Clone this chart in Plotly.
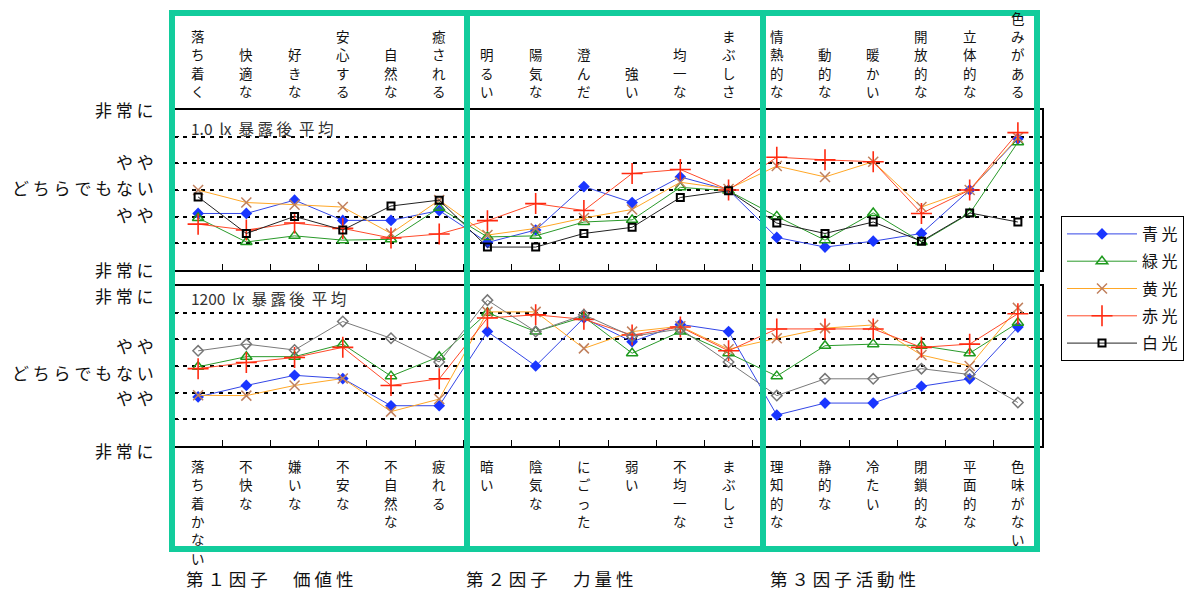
import plotly.graph_objects as go

W, H = 1191, 590

# Semantic differential pairs (positive pole on top, negative pole below)
top_words = ["落ち着く", "快適な", "好きな", "安心する", "自然な", "癒される",
             "明るい", "陽気な", "澄んだ", "強い", "均一な", "まぶしさ",
             "情熱的な", "動的な", "暖かい", "開放的な", "立体的な", "色みがある"]
bottom_words = ["落ち着かない", "不快な", "嫌いな", "不安な", "不自然な", "疲れる",
                "暗い", "陰気な", "にごった", "弱い", "不均一な", "まぶしさ",
                "理知的な", "静的な", "冷たい", "閉鎖的な", "平面的な", "色味がない"]

series_names = ["青光", "緑光", "黄光", "赤光", "白光"]

# Mean ratings after 1.0 lx exposure (-3 .. +3)
low_blue = [-0.88, -0.88, -0.38, -1.14, -1.14, -0.77, -1.97, -1.50, 0.13, -0.47, 0.49, 0.00,
            -1.78, -2.14, -1.92, -1.63, 0.00, 1.92]
low_green = [-1.05, -1.95, -1.72, -1.88, -1.85, -0.67, -1.76, -1.72, -1.20, -1.12, 0.10, -0.03,
             -0.99, -1.88, -0.86, -1.95, -0.88, 1.79]
low_yellow = [0.00, -0.47, -0.55, -0.64, -1.63, -0.38, -1.69, -1.44, -1.05, -0.73, 0.29, 0.04,
              0.90, 0.49, 1.06, -0.64, 0.00, 1.96]
low_red = [-1.28, -1.50, -1.24, -1.44, -1.80, -1.65, -1.15, -0.51, -0.77, 0.62, 0.77, 0.00,
           1.23, 1.13, 1.06, -0.88, 0.00, 2.15]
low_white = [-0.26, -1.63, -0.99, -1.50, -0.60, -0.38, -2.14, -2.14, -1.63, -1.40, -0.28, -0.03,
             -1.24, -1.63, -1.20, -1.92, -0.86, -1.20]

# Mean ratings after 1200 lx exposure (-3 .. +3)
high_blue = [-1.16, -0.73, -0.35, -0.47, -1.49, -1.49, 1.29, 0.00, 1.80, 0.91, 1.56, 1.29,
             -1.84, -1.39, -1.39, -0.76, -0.48, 1.46]
high_green = [-0.03, 0.35, 0.35, 0.82, -0.38, 0.35, 2.00, 1.29, 1.84, 0.48, 1.29, 0.48,
              -0.38, 0.76, 0.82, 0.76, 0.48, 1.62]
high_yellow = [-1.10, -1.11, -0.73, -0.47, -1.71, -1.24, 2.03, 2.03, 0.66, 1.29, 1.49, 0.63,
               1.04, 1.42, 1.54, 0.41, 0.00, 2.18]
high_red = [-0.10, 0.13, 0.32, 0.70, -0.73, -0.48, 1.80, 1.92, 1.75, 1.16, 1.46, 0.57,
            1.39, 1.39, 1.39, 0.70, 0.82, 1.96]
high_white = [0.57, 0.82, 0.60, 1.67, 1.04, 0.15, 2.47, 1.29, 1.92, 1.11, 1.39, 0.15,
              -1.11, -0.48, -0.48, -0.10, -0.32, -1.37]

y_levels = [3, 1, 0, -1, -3]
y_labels = ["非常に", "やや", "どちらでもない", "やや", "非常に"]

panel_titles = ["1.0 lx 暴露後 平均", "1200 lx 暴露後 平均"]
factor_titles = ["第１因子　価値性", "第２因子　力量性", "第３因子活動性"]

FONT = "Noto Sans CJK JP"
BOX = "#12CC9C"
INK = "#111111"
NB = "\u00a0"


def px(x):
    return x / W


def py(y):
    return 1 - y / H


def widen(s):
    """Open up the pitch of CJK glyphs with non-breaking spaces."""
    out = []
    for ch in s:
        if ch in (" ", "　"):
            out.append(NB * (2 if ch == " " else 5))
        else:
            out.append(ch)
    res = []
    for i, ch in enumerate(out):
        res.append(ch)
        if i < len(out) - 1 and ord(ch[0]) > 0x2E80 and ord(out[i + 1][0]) > 0x2E80:
            res.append(NB)
    return "".join(res)


styles = [
    dict(line=dict(color="#3346E6", width=1),
         marker=dict(symbol="diamond", size=9, color="#1A36FF")),
    dict(line=dict(color="#2A9A2A", width=1),
         marker=dict(symbol="triangle-up-open", size=10, color="#1E9A1E", line=dict(width=1.5))),
    dict(line=dict(color="#FFA726", width=1),
         marker=dict(symbol="x-thin-open", size=10, color="#C0805E", line=dict(width=1.5))),
    dict(line=dict(color="#FF4A2A", width=1),
         marker=dict(symbol="cross-thin-open", size=15, color="#FF2A10", line=dict(width=1.6))),
]
white_top = dict(line=dict(color="#222222", width=1),
                 marker=dict(symbol="square-open", size=7, color="#000000", line=dict(width=2)))
white_bottom = dict(line=dict(color="#7A7A7A", width=1),
                    marker=dict(symbol="diamond-open", size=8, color="#777777", line=dict(width=1.5)))

fig = go.Figure()

low_sets = [low_blue, low_green, low_yellow, low_red, low_white]
high_sets = [high_blue, high_green, high_yellow, high_red, high_white]

for i, name in enumerate(series_names):
    st = styles[i] if i < 4 else white_top
    fig.add_trace(go.Scatter(x=top_words, y=low_sets[i], name=NB.join(name),
                             legendgroup=name, mode="lines+markers",
                             xaxis="x", yaxis="y", showlegend=True, **st))
for i, name in enumerate(series_names):
    st = styles[i] if i < 4 else white_bottom
    fig.add_trace(go.Scatter(x=top_words, y=high_sets[i], name=name, legendgroup=name,
                             mode="lines+markers",
                             xaxis="x2", yaxis="y2", showlegend=False, **st))

x_dom = [px(174), px(1042)]
xcommon = dict(type="category", categoryorder="array", categoryarray=top_words,
               range=[-0.5, 17.5], showticklabels=False, tickson="boundaries",
               ticks="inside", ticklen=6, tickcolor="#000", showline=True, linecolor="#000",
               linewidth=1.5, mirror=True, showgrid=False, zeroline=False, domain=x_dom)
ycommon = dict(range=[-3, 3], tickvals=[-3, -2, -1, 0, 1, 2, 3], showticklabels=False,
               ticks="inside", ticklen=5, tickcolor="#000",
               showline=True, linecolor="#000", linewidth=1.5, mirror=True,
               showgrid=True, gridcolor="#000", gridwidth=1.6, griddash="4px,5px",
               zeroline=False)

annotations = []

# vertical adjective labels, one glyph per row
PITCH = 18.3
for w_top, w_bot in zip(top_words, bottom_words):
    n = len(w_top)
    for k, ch in enumerate(w_top):
        annotations.append(dict(x=w_top, xref="x", y=py(91 - (n - 1 - k) * PITCH),
                                yref="paper", text=ch, showarrow=False,
                                xanchor="center", yanchor="middle",
                                font=dict(family=FONT, size=13.5, color=INK)))
    for k, ch in enumerate(w_bot):
        annotations.append(dict(x=w_top, xref="x2", y=py(466 + k * PITCH),
                                yref="paper", text=ch, showarrow=False,
                                xanchor="center", yanchor="middle",
                                font=dict(family=FONT, size=13.5, color=INK)))

# rating scale labels (small per-level offsets keep the two 非常に apart)
label_shifts = {"y": [0, 2, 2, 2, 1], "y2": [-9, -6, -6, -5, -4]}
for yref, shifts in label_shifts.items():
    for lv, lab, sh in zip(y_levels, y_labels, shifts):
        annotations.append(dict(x=px(156), xref="paper", y=lv, yref=yref, yshift=sh,
                                text=" ".join(lab), showarrow=False, xanchor="right",
                                yanchor="middle",
                                font=dict(family=FONT, size=17, color=INK)))

# panel captions
for title, yy in zip(panel_titles, (128, 298)):
    annotations.append(dict(x=px(189), xref="paper", y=py(yy), yref="paper",
                            text=widen(title), showarrow=False, xanchor="left",
                            yanchor="middle",
                            font=dict(family=FONT, size=15.5, color="#333333")))

# factor captions
for title, xx in zip(factor_titles, (184, 464, 768)):
    cap = " ".join(ch for ch in title)
    annotations.append(dict(x=px(xx), xref="paper", y=py(578), yref="paper", text=cap,
                            showarrow=False, xanchor="left", yanchor="middle",
                            font=dict(family=FONT, size=17.5, color=INK)))

# factor group frames
shapes = []
for x0, x1 in ((172, 467), (467, 763), (763, 1037)):
    shapes.append(dict(type="rect", xref="paper", yref="paper",
                       x0=px(x0), x1=px(x1), y0=py(549), y1=py(13),
                       line=dict(color=BOX, width=6), fillcolor="rgba(0,0,0,0)",
                       layer="above"))

fig.update_layout(
    width=W, height=H,
    margin=dict(l=0, r=0, t=0, b=0),
    paper_bgcolor="white", plot_bgcolor="white",
    font=dict(family=FONT, size=14, color=INK),
    xaxis=dict(**xcommon, anchor="y"),
    xaxis2=dict(**xcommon, anchor="y2"),
    yaxis=dict(**ycommon, domain=[py(270), py(110)], anchor="x"),
    yaxis2=dict(**ycommon, domain=[py(446), py(286)], anchor="x2"),
    legend=dict(x=px(1061), y=py(216), xanchor="left", yanchor="top",
                bordercolor="#000", borderwidth=1, bgcolor="white",
                font=dict(family=FONT, size=16, color=INK),
                itemwidth=70, tracegroupgap=3.5),
    annotations=annotations,
    shapes=shapes,
)

fig.write_html("out.html")
